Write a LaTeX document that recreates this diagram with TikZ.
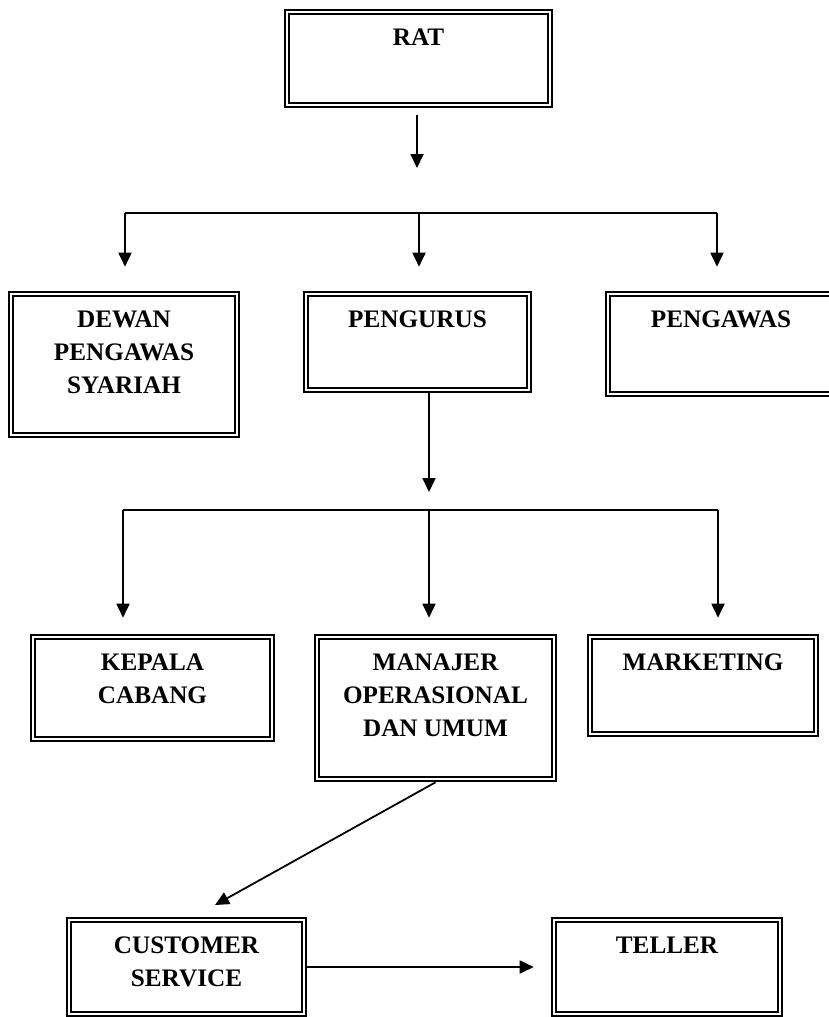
\documentclass[tikz,border=0pt]{standalone}
\usepackage{fontspec}
\setmainfont{Liberation Serif}
\usetikzlibrary{arrows.meta}
\newcommand*{\busA}{213}
\newcommand*{\busB}{510}

\begin{document}
\begin{tikzpicture}[x=0.5pt, y=-0.5pt,
    unit/.style={draw, line width=1.3pt, inner sep=0pt,
      path picture={\draw[line width=0.8pt]
        ([shift={(1.9pt,1.9pt)}]path picture bounding box.south west) rectangle
        ([shift={(-1.9pt,-1.9pt)}]path picture bounding box.north east);}},
    lbl/.style={anchor=north, inner sep=0pt, yshift=-9.9pt, align=center,
      font=\fontsize{12.6pt}{16.5pt}\selectfont\bfseries},
    arr/.style={line width=0.9pt, -{Triangle[length=7pt,width=6.5pt]}}]
  \clip (0,0) rectangle (829,1017);
  \fill[white] (0,0) rectangle (829,1017);

  % boxes
  \node[unit, minimum width=133.5pt, minimum height=48.5pt, label={[lbl]north:RAT}] (rat) at (418.5,58.5) {};
  \node[unit, minimum width=115pt, minimum height=72.5pt, label={[lbl]north:DEWAN\\PENGAWAS\\SYARIAH}] (dps) at (124,364.5) {};
  \node[unit, minimum width=113.5pt, minimum height=50pt, label={[lbl]north:PENGURUS}] (pengurus) at (417.5,342) {};
  \node[unit, minimum width=115pt, minimum height=52pt, label={[lbl]north:PENGAWAS}] (pengawas) at (721,344) {};
  \node[unit, minimum width=121.5pt, minimum height=53pt, label={[lbl]north:KEPALA\\CABANG}] (kacab) at (152.5,688) {};
  \node[unit, minimum width=120.5pt, minimum height=73pt, label={[lbl]north:MANAJER\\OPERASIONAL\\DAN UMUM}] (manajer) at (435.5,708) {};
  \node[unit, minimum width=115pt, minimum height=50.5pt, label={[lbl]north:MARKETING}] (marketing) at (703,685.5) {};
  \node[unit, minimum width=119.5pt, minimum height=49pt, label={[lbl]north:CUSTOMER\\SERVICE}] (cs) at (186.5,967) {};
  \node[unit, minimum width=115pt, minimum height=49pt, label={[lbl]north:TELLER}] (teller) at (667,967) {};

  % bus points
  \coordinate (ratTip) at (417,168);
  \coordinate (a1) at (125,\busA);
  \coordinate (a2) at (419,\busA);
  \coordinate (a3) at (717,\busA);
  \coordinate (b1) at (123,\busB);
  \coordinate (b2) at (429,\busB);
  \coordinate (b3) at (718,\busB);
  \coordinate (csTip) at (215,905);

  \draw[arr, shorten <=3.5pt] (rat.south -| ratTip) -- (ratTip);
  \draw[line width=0.9pt] (a1) -- (a3);
  \foreach \c/\n in {a1/dps, a2/pengurus, a3/pengawas}
    \draw[arr, shorten >=12pt] (\c) -- (\c |- \n.north);

  \draw[arr, shorten >=9pt] (pengurus.south -| b2) -- (b2);
  \draw[line width=0.9pt] (b1) -- (b3);
  \foreach \c/\n in {b1/kacab, b2/manajer, b3/marketing}
    \draw[arr, shorten >=8pt] (\c) -- (\c |- \n.north);

  \draw[arr] (manajer.south) -- (csTip);
  \draw[arr, shorten >=8.5pt] (cs.east) -- (teller.west);
\end{tikzpicture}
\end{document}
